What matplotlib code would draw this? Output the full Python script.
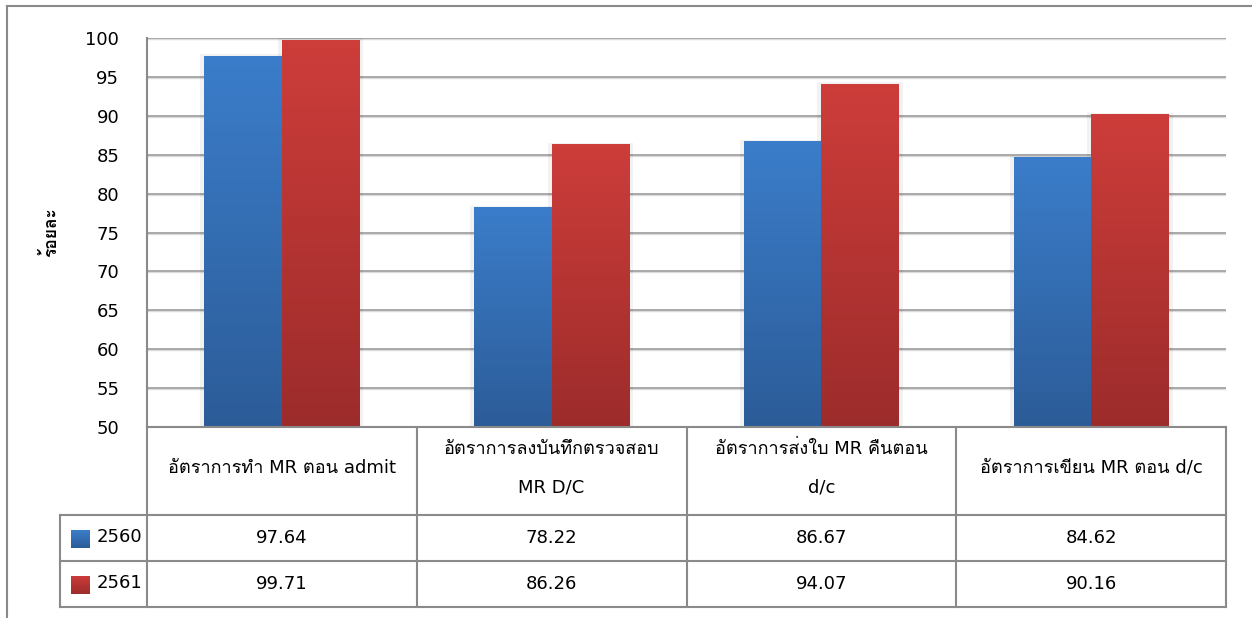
import numpy as np
import matplotlib
matplotlib.use('Agg')
import matplotlib.pyplot as plt
from matplotlib import font_manager as fm
from matplotlib.ft2font import FT2Font
from matplotlib.colors import LinearSegmentedColormap
from matplotlib.lines import Line2D
from matplotlib.patches import Rectangle

# ------------------------- data -------------------------
categories = ['อัตราการทำ MR ตอน admit',
              'อัตราการลงบันทึกตรวจสอบ\nMR D/C',
              'อัตราการส่งใบ MR คืนตอน\nd/c',
              'อัตราการเขียน MR ตอน d/c']
years = ['2560', '2561']
vals_2560 = [97.64, 78.22, 86.67, 84.62]
vals_2561 = [99.71, 86.26, 94.07, 90.16]
yticks = [50, 55, 60, 65, 70, 75, 80, 85, 90, 95, 100]


# ------------------------- fonts -------------------------
def find_thai_font():
    for f in fm.fontManager.ttflist:
        try:
            cmap = FT2Font(f.fname).get_charmap()
        except Exception:
            continue
        if 0x0E2D in cmap and 0x0E31 in cmap:
            return f.name
    return None


thai = find_thai_font()
families = ['DejaVu Sans'] + ([thai] if thai else [])
plt.rcParams['font.family'] = families
fs = 13

# ------------------------- figure -------------------------
W, H = 1252, 618
fig = plt.figure(figsize=(W / 100, H / 100), dpi=100)


def fx(px):
    return px / W


def fy(py):
    return 1 - py / H


# outer frame (top and left edges)
fig.add_artist(Line2D([fx(7), fx(1252)], [fy(6), fy(6)], color='#8a8a8a', lw=1.5))
fig.add_artist(Line2D([fx(7), fx(7)], [fy(6), fy(618)], color='#8a8a8a', lw=1.5))

x_left, x_right, y_top, y_bot = 147, 1226, 38, 427
ax = fig.add_axes([fx(x_left), fy(y_bot), fx(x_right - x_left), (y_bot - y_top) / H])

for s in ['top', 'right', 'bottom']:
    ax.spines[s].set_visible(False)
ax.spines['left'].set_color('#8a8a8a')
ax.spines['left'].set_linewidth(1.5)

# gridlines with soft shadow
for t in yticks:
    ax.axhline(t - 0.13, color='#dcdcdc', lw=1.0, zorder=1)
    ax.axhline(t, color='#929292', lw=1.1, zorder=1)

blue_cm = LinearSegmentedColormap.from_list('b', ['#2c5c98', '#3b7dca'])
red_cm = LinearSegmentedColormap.from_list('r', ['#9c2c2b', '#cd3d3a'])
grad = np.linspace(0, 1, 256).reshape(-1, 1)

bw = 77.5 / 269.75
x = np.arange(len(categories))
for i in range(len(categories)):
    for vals, cm, off in [(vals_2560, blue_cm, -bw), (vals_2561, red_cm, 0)]:
        x0 = x[i] + off
        # shadow
        ax.add_patch(Rectangle((x0 - 0.015, 50), bw + 0.03, vals[i] - 50 + 0.25,
                               facecolor='#000000', alpha=0.05, lw=0, zorder=2))
        ax.imshow(grad, extent=[x0, x0 + bw, 50, vals[i]], origin='lower',
                  aspect='auto', cmap=cm, zorder=3)

ax.set_xlim(-0.5, len(categories) - 0.5)
ax.set_ylim(50, 100)
ax.set_xticks([])
ax.set_yticks(yticks)
ax.set_yticklabels([str(t) for t in yticks], fontsize=fs)
ax.tick_params(axis='y', length=0, pad=20)
fig.text(fx(51), fy(232), 'ร้อยละ', rotation=90, ha='center', va='center',
         fontsize=12.5, fontweight='bold')

# ------------------------- data table -------------------------
gc = '#8a8a8a'
col_w = (x_right - x_left) / len(categories)
col_x = [x_left + k * col_w for k in range(len(categories) + 1)]
rows_y = [427, 515, 561, 607]
leg_left = 60


def hline(xa, xb, y):
    fig.add_artist(Line2D([fx(xa), fx(xb)], [fy(y), fy(y)], color=gc, lw=1.5))


def vline(x_, ya, yb):
    fig.add_artist(Line2D([fx(x_), fx(x_)], [fy(ya), fy(yb)], color=gc, lw=1.5))


hline(x_left, x_right, rows_y[0])
hline(leg_left, x_right, rows_y[1])
hline(leg_left, x_right, rows_y[2])
hline(leg_left, x_right, rows_y[3])
for cx in col_x:
    vline(cx, rows_y[0], rows_y[3])
vline(leg_left, rows_y[1], rows_y[3])

# header cells
for k, cat in enumerate(categories):
    cx = (col_x[k] + col_x[k + 1]) / 2
    lines = cat.split('\n')
    if len(lines) == 1:
        fig.text(fx(cx), fy(468), lines[0], ha='center', va='center', fontsize=fs)
    else:
        fig.text(fx(cx), fy(449), lines[0], ha='center', va='center', fontsize=fs)
        fig.text(fx(cx), fy(487), lines[1], ha='center', va='center', fontsize=fs)

# value rows with legend keys
for r, (yr, vals, cm) in enumerate([(years[0], vals_2560, blue_cm), (years[1], vals_2561, red_cm)]):
    yc = (rows_y[r + 1] + rows_y[r + 2]) / 2
    key = fig.add_axes([fx(71), fy(yc + 10), fx(18), 18 / H])
    key.imshow(grad, origin='lower', aspect='auto', cmap=cm, extent=[0, 1, 0, 1])
    key.axis('off')
    fig.text(fx(97), fy(yc - 1), yr, ha='left', va='center', fontsize=fs)
    for k, v in enumerate(vals):
        cx = (col_x[k] + col_x[k + 1]) / 2
        fig.text(fx(cx), fy(yc), f'{v:.2f}', ha='center', va='center', fontsize=fs)

fig.savefig('out.png', dpi=100)
